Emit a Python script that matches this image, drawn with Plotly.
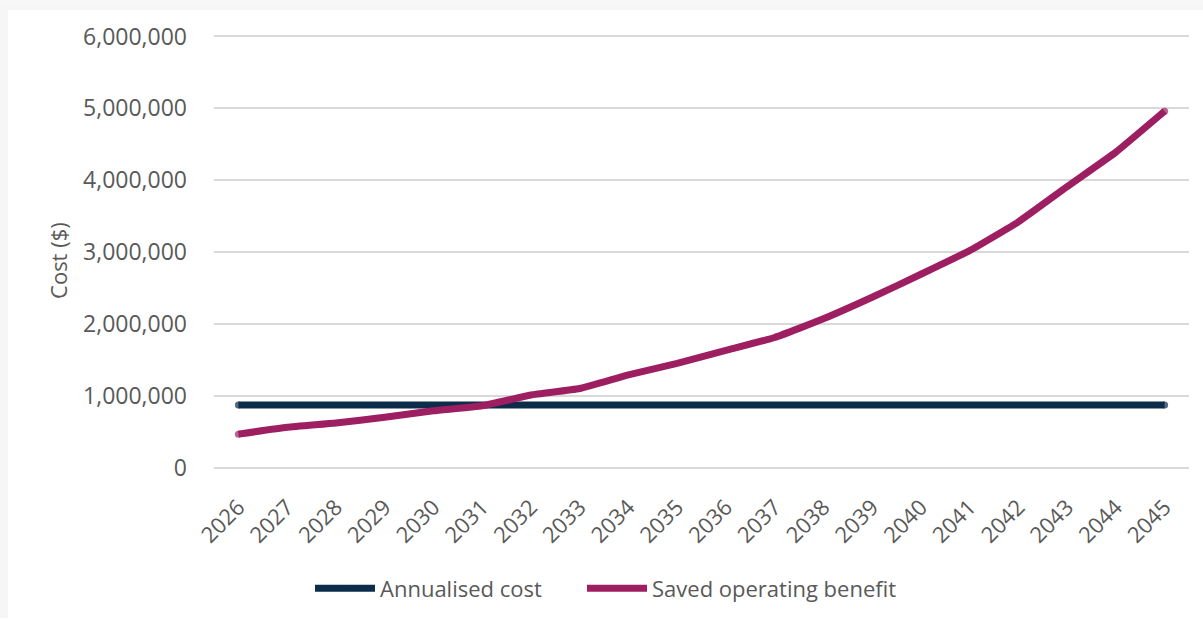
import plotly.graph_objects as go

# Data
years = [str(y) for y in range(2026, 2046)]
annualised_cost = [870000] * 20
saved_operating_benefit = [
    465000, 560000, 620000, 700000, 790000, 860000, 1010000, 1100000,
    1290000, 1450000, 1630000, 1810000, 2070000, 2370000, 2690000,
    3020000, 3420000, 3910000, 4390000, 4960000,
]
y_ticks = [0, 1000000, 2000000, 3000000, 4000000, 5000000, 6000000]
y_tick_labels = ["0", "1,000,000", "2,000,000", "3,000,000", "4,000,000",
                 "5,000,000", "6,000,000"]

W, H = 1203, 621
ML, MR, MT, MB = 214, 14, 35, 150
TEXT = "#595959"
FONT = "Open Sans"
PAD = 20000  # keeps the 0 and 6,000,000 gridlines inside the plot area

# round end caps for the thick lines
cap_sizes = [7] + [0] * (len(years) - 2) + [7]

fig = go.Figure()
fig.add_trace(go.Scatter(
    x=years, y=annualised_cost, mode="lines+markers", name="Annualised cost",
    line=dict(color="#0c2d4a", width=7),
    marker=dict(color="#0c2d4a", size=cap_sizes, line_width=0),
    legend="legend",
))
fig.add_trace(go.Scatter(
    x=years, y=saved_operating_benefit, mode="lines+markers",
    name="Saved operating benefit",
    line=dict(color="#9e1f61", width=7, shape="spline", smoothing=0.4),
    marker=dict(color="#9e1f61", size=cap_sizes, line_width=0),
    legend="legend2",
))


def px_x(px):
    return (px - ML) / (W - ML - MR)


def px_y(py):
    return (H - MB - py) / (H - MT - MB)


# Light frame around the white chart card
fig.add_shape(type="rect", xref="paper", yref="paper", layer="below",
              x0=px_x(0), x1=px_x(W), y0=px_y(H), y1=px_y(0),
              fillcolor="#f6f6f6", line_width=0)
fig.add_shape(type="rect", xref="paper", yref="paper", layer="below",
              x0=px_x(8), x1=px_x(W), y0=px_y(H), y1=px_y(10),
              fillcolor="#ffffff", line_width=0)

# Y axis title
fig.add_annotation(text="Cost ($)", xref="paper", yref="paper",
                   x=px_x(58), y=px_y(262), textangle=-90, showarrow=False,
                   xanchor="center", yanchor="middle",
                   font=dict(size=22, color=TEXT, family=FONT))

legend_style = dict(orientation="h", yanchor="middle", y=px_y(591),
                    xanchor="left", font=dict(size=22, color=TEXT),
                    itemwidth=60, bgcolor="rgba(0,0,0,0)")

fig.update_layout(
    width=W, height=H,
    margin=dict(l=ML, r=MR, t=MT, b=MB),
    paper_bgcolor="#ffffff",
    plot_bgcolor="rgba(0,0,0,0)",
    font=dict(family=FONT, color=TEXT, size=20),
    showlegend=True,
    legend=dict(x=px_x(310), **legend_style),
    legend2=dict(x=px_x(582), **legend_style),
    hovermode=False,
)
fig.update_xaxes(
    type="category", range=[-0.5, 19.5], tickangle=-45,
    showgrid=False, showline=False, zeroline=False,
    tickfont=dict(size=22, color=TEXT), ticks="", ticklabelstandoff=20,
)
fig.update_yaxes(
    range=[-PAD, 6000000 + PAD], tickvals=y_ticks, ticktext=y_tick_labels,
    showgrid=True, gridcolor="#d9d9d9", gridwidth=2,
    zeroline=False, showline=False, ticks="", ticklabelstandoff=26,
    tickfont=dict(size=23, color=TEXT),
)

fig.write_html("out.html")
